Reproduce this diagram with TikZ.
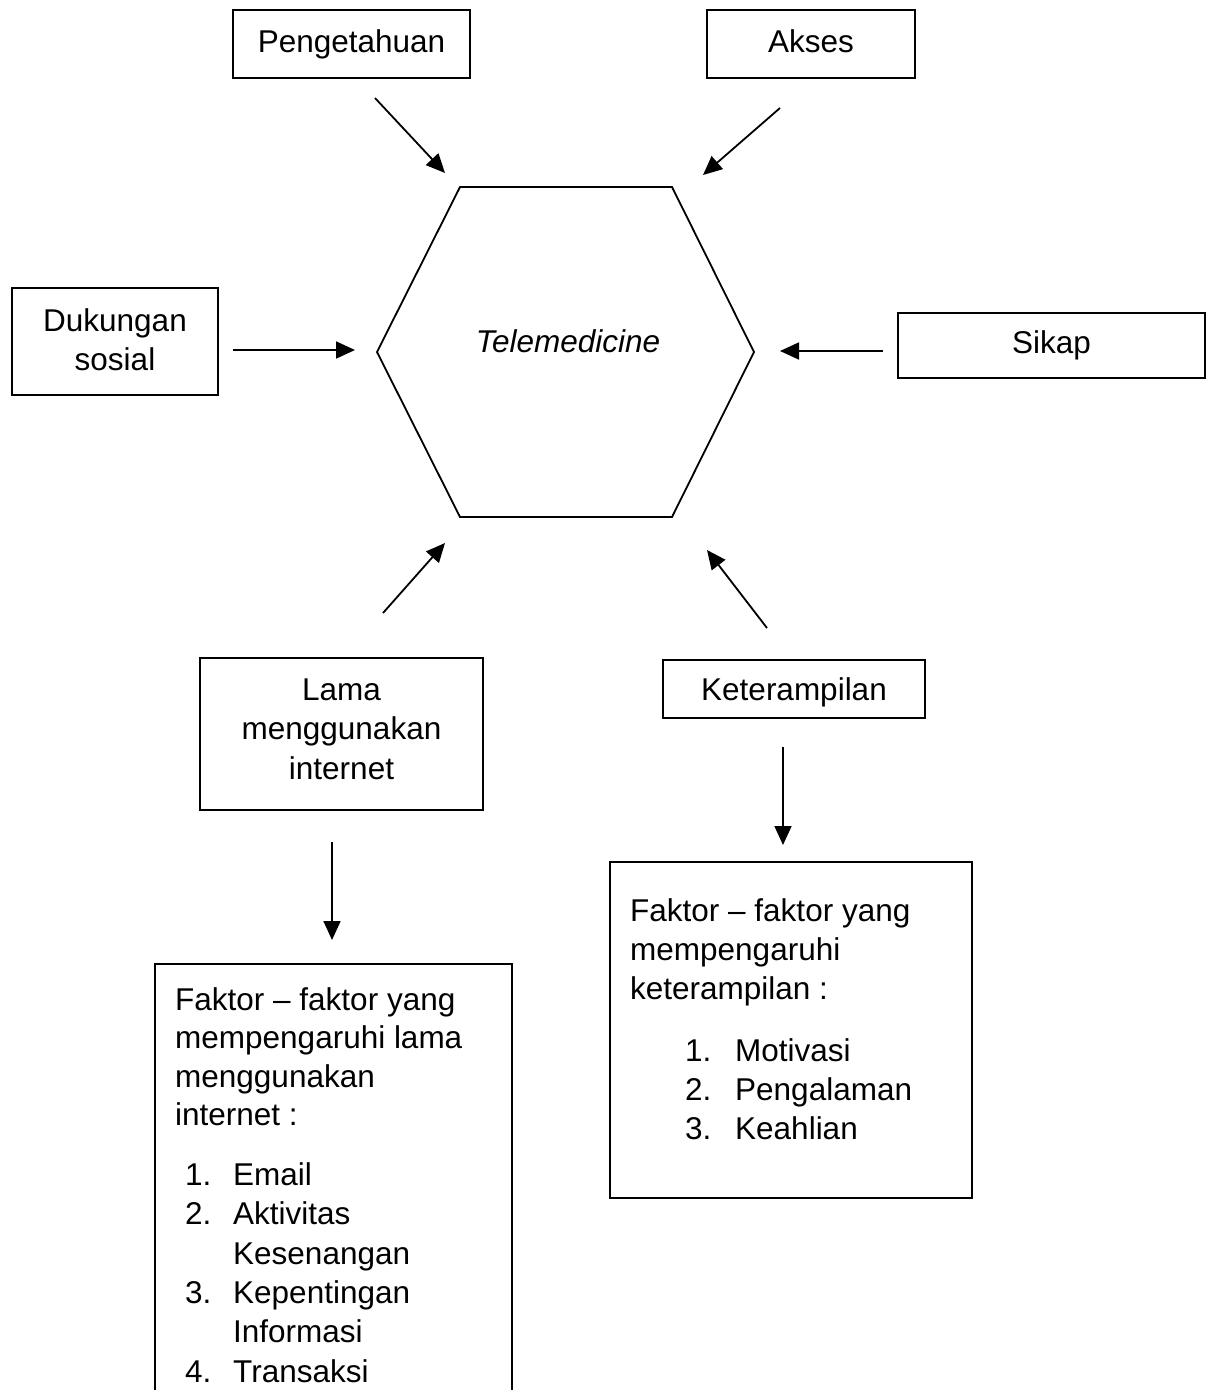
\documentclass[tikz,border=0pt]{standalone}
\usepackage{fontspec}
\setmainfont{Liberation Sans}
\usetikzlibrary{arrows.meta}
\newcommand\myfs{\fontsize{31.5}{39.5}\selectfont}
\tikzset{
  box/.style={draw, line width=1.8pt, font=\myfs, inner sep=0pt, align=center},
  onebox/.style={box, text height=23pt, text depth=6.6pt},
  txt/.style={font=\myfs, inner sep=0pt, anchor=base west},
  arr/.style={line width=1.8pt, -{Triangle[length=19pt,width=17pt]}},
  shape line/.style={line width=1.8pt, line join=miter}
}
\begin{document}
\begin{tikzpicture}[x=1pt,y=-1pt]
\useasboundingbox[fill=white] (0,0) rectangle (1214,1390);

% Hexagon
\coordinate (h1) at (377,352);
\coordinate (h2) at (460,187);
\coordinate (h3) at (672,187);
\coordinate (h4) at (754,352);
\coordinate (h5) at (672,517);
\coordinate (h6) at (460,517);
\draw[shape line] (h1) -- (h2) -- (h3) -- (h4) -- (h5) -- (h6) -- cycle;
\node[font=\myfs\itshape, inner sep=0pt, anchor=base] (tele) at (568,352) {Telemedicine};

% Boxes
\node[onebox, minimum width=237, minimum height=68] (peng) at (351.5,44) {Pengetahuan};
\node[onebox, minimum width=208, minimum height=68] (akses) at (811,44) {Akses};
\node[box, text depth=4pt, minimum width=206, minimum height=107] (duk) at (115,341.5) {Dukungan\\sosial};
\node[onebox, minimum width=307, minimum height=65] (sikap) at (1051.5,345.5) {Sikap};
\node[box, text depth=10pt, minimum width=283, minimum height=152] (lama) at (341.5,734) {Lama\\menggunakan\\internet};
\node[onebox, text depth=0pt, minimum width=262, minimum height=58] (ket) at (794,689) {Keterampilan};

% Arrow end points
\coordinate (pA) at (375,98);   \coordinate (pB) at (445,173);
\coordinate (aA) at (780,108);  \coordinate (aB) at (703,175);
\coordinate (dA) at (233,350);  \coordinate (dB) at (355,350);
\coordinate (sA) at (883,351);  \coordinate (sB) at (780,351);
\coordinate (lA) at (383,613);  \coordinate (lB) at (445,543);
\coordinate (kA) at (767,628);  \coordinate (kB) at (707,550);
\coordinate (ldA) at (332,842); \coordinate (ldB) at (332,940);
\coordinate (kdA) at (783,747); \coordinate (kdB) at (783,845);

\draw[arr] (pA) -- (pB);
\draw[arr] (aA) -- (aB);
\draw[arr] (dA) -- (dB);
\draw[arr] (sA) -- (sB);
\draw[arr] (lA) -- (lB);
\draw[arr] (kA) -- (kB);
\draw[arr] (ldA) -- (ldB);
\draw[arr] (kdA) -- (kdB);

% Left list box (open at bottom)
\coordinate (lb1) at (155,1395);
\coordinate (lb2) at (155,964);
\coordinate (lb3) at (512,964);
\coordinate (lb4) at (512,1395);
\draw[shape line] (lb1) -- (lb2) -- (lb3) -- (lb4);
\node[txt] (l1) at (175,1010) {Faktor – faktor yang};
\node[txt] (l2) at (175,1048) {mempengaruhi lama};
\node[txt] (l3) at (175,1087) {menggunakan};
\node[txt] (l4) at (175,1125) {internet :};
\node[txt] (n1) at (185,1185) {1.};
\node[txt] (t1) at (233,1185) {Email};
\node[txt] (n2) at (185,1224) {2.};
\node[txt] (t2) at (233,1224) {Aktivitas};
\node[txt] (t2b) at (233,1264) {Kesenangan};
\node[txt] (n3) at (185,1303) {3.};
\node[txt] (t3) at (233,1303) {Kepentingan};
\node[txt] (t3b) at (233,1342) {Informasi};
\node[txt] (n4) at (185,1382) {4.};
\node[txt] (t4) at (233,1382) {Transaksi};

% Right list box
\node[draw, line width=1.8pt, inner sep=0pt, minimum width=362, minimum height=336] (rbox) at (791,1030) {};
\node[txt] (r1) at (630,921) {Faktor – faktor yang};
\node[txt] (r2) at (630,960) {mempengaruhi};
\node[txt] (r3) at (630,999) {keterampilan :};
\node[txt] (m1) at (685,1061) {1.};
\node[txt] (s1) at (735,1061) {Motivasi};
\node[txt] (m2) at (685,1100) {2.};
\node[txt] (s2) at (735,1100) {Pengalaman};
\node[txt] (m3) at (685,1139) {3.};
\node[txt] (s3) at (735,1139) {Keahlian};
\end{tikzpicture}
\end{document}
